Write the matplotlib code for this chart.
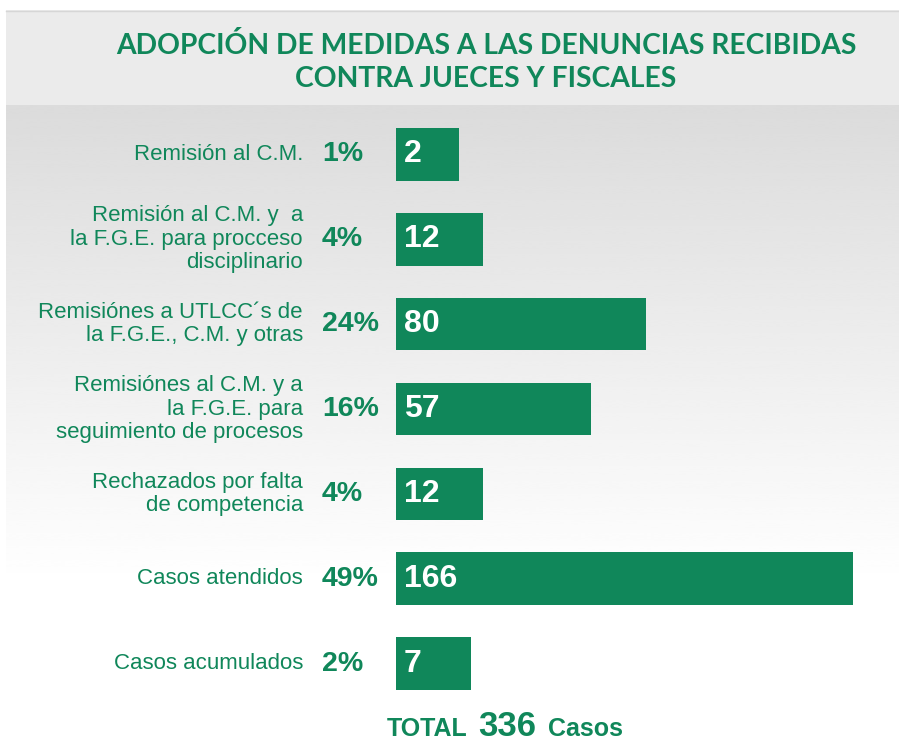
import numpy as np
import matplotlib.pyplot as plt
from matplotlib import transforms
from matplotlib.patches import Rectangle

# data
labels = [
    "Remisión al C.M.",
    "Remisión al C.M. y  a\nla F.G.E. para procceso\ndisciplinario",
    "Remisiónes a UTLCC´s de\nla F.G.E., C.M. y otras",
    "Remisiónes al C.M. y a\nla F.G.E. para\nseguimiento de procesos",
    "Rechazados por falta\nde competencia",
    "Casos atendidos",
    "Casos acumulados",
]
casos = [2, 12, 80, 57, 12, 166, 7]
porcentajes = ["1%", "4%", "24%", "16%", "4%", "49%", "2%"]
total = 336
titulo = "ADOPCIÓN DE MEDIDAS A LAS DENUNCIAS RECIBIDAS\nCONTRA JUECES Y FISCALES"

GREEN = "#10875a"
FONT = "Liberation Sans"
W, H = 899, 742


def main():
    fig = plt.figure(figsize=(W / 100, H / 100), dpi=100)
    fig.patch.set_facecolor("white")

    # background: header band + vertical gradient
    bg = fig.add_axes([0, 0, 1, 1], zorder=0)
    bg.set_xlim(0, W)
    bg.set_ylim(H, 0)
    bg.axis("off")
    grad = np.linspace(0.86, 1.0, 256).reshape(-1, 1)
    bg.imshow(grad, cmap="gray", vmin=0, vmax=1, aspect="auto",
              extent=(6, W, 585, 105), interpolation="bicubic")
    bg.add_patch(Rectangle((6, 10), W - 6, 95, facecolor="#ebebeb",
                           edgecolor="none"))
    bg.plot([6, W], [10.5, 10.5], color="#d6d6d6", lw=1)

    fig.text(486 / W, 1 - 62 / H, titulo, ha="center", va="center",
             fontsize=20.3, fontweight="bold", color=GREEN, family="Lato",
             linespacing=1.3)

    # bars (bars start a bit left of zero so small values still fit a label)
    pad = 24
    y = np.arange(len(casos))
    ax = fig.add_axes([396 / W, 36 / H, 457 / W, 594 / H], zorder=1)
    ax.patch.set_alpha(0)
    ax.barh(y, np.array(casos) + pad, left=-pad, height=0.62, color=GREEN)
    ax.set_xlim(-pad, max(casos))
    ax.set_ylim(len(casos) - 0.5, -0.5)
    ax.axis("off")

    tr = transforms.blended_transform_factory(fig.transFigure, ax.transData)
    for yi, lab, pc, v in zip(y, labels, porcentajes, casos):
        ax.text(303 / W, yi, lab, transform=tr, ha="right", va="center",
                fontsize=16, color=GREEN, family=FONT, linespacing=1.15)
        ax.text(322 / W, yi, pc, transform=tr, ha="left", va="center",
                fontsize=20.5, fontweight="bold", color=GREEN, family=FONT)
        ax.text(-pad + 3.3, yi, str(v), ha="left", va="center",
                fontsize=23, fontweight="bold", color="white", family=FONT)

    # total
    base = 6 / H
    fig.text(468 / W, base, "TOTAL", ha="right", va="baseline", fontsize=18,
             fontweight="bold", color=GREEN, family=FONT)
    fig.text(507 / W, base, str(total), ha="center", va="baseline",
             fontsize=25, fontweight="bold", color=GREEN, family=FONT)
    fig.text(548 / W, base, "Casos", ha="left", va="baseline", fontsize=18,
             fontweight="bold", color=GREEN, family=FONT)

    fig.savefig("out.png", dpi=100)


if __name__ == "__main__":
    main()
